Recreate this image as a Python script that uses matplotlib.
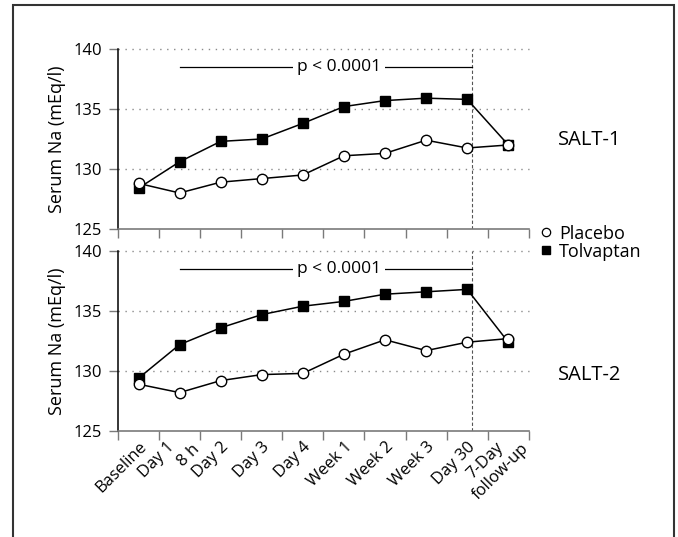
import numpy as np
import matplotlib
matplotlib.use('Agg')
import matplotlib.pyplot as plt
from matplotlib.patches import Rectangle
from matplotlib.lines import Line2D
from matplotlib.transforms import ScaledTranslation

plt.rcParams['font.family'] = ['Open Sans', 'DejaVu Sans']

# data
timepoints = ["Baseline", "Day 1\n8 h", "Day 2", "Day 3", "Day 4",
              "Week 1", "Week 2", "Week 3", "Day 30", "7-Day\nfollow-up"]
salt1_tolvaptan = [128.4, 130.6, 132.3, 132.5, 133.8, 135.2, 135.7, 135.9, 135.8, 132.0]
salt1_placebo = [128.8, 128.0, 128.9, 129.2, 129.5, 131.1, 131.3, 132.4, 131.75, 132.0]
salt2_tolvaptan = [129.4, 132.2, 133.6, 134.7, 135.4, 135.8, 136.4, 136.6, 136.8, 132.4]
salt2_placebo = [128.9, 128.2, 129.2, 129.7, 129.8, 131.4, 132.6, 131.7, 132.4, 132.7]
trial_names = ["SALT-1", "SALT-2"]
trial_label_y = [132.4, 129.7]
p_text = "p < 0.0001"

gray = '#7a7a7a'


def px(dx, dy):
    # offset in pixels (figure is drawn at 100 dpi)
    return ScaledTranslation(dx / 100, dy / 100, fig.dpi_scale_trans)


def draw_xlabels(ax, x):
    base = ax.get_xaxis_transform()
    for xi, lab in zip(x, timepoints):
        lines = lab.split('\n')
        if len(lines) == 1:
            offs = [(0, -8)]
        else:
            offs = [(-13, -8), (12, -10)]
        for line, (dx, dy) in zip(lines, offs):
            ax.text(xi, 0, line, transform=base + px(dx, dy), rotation=45,
                    rotation_mode='anchor', ha='right', va='top', fontsize=12)


def draw_panel(ax, tolv, plac, name, name_y, show_labels):
    x = np.arange(len(timepoints)) + 0.5
    for g in [130, 135, 140]:
        ax.axhline(g, color='#8a8a8a', lw=1.0, ls=(0, (1, 4)), clip_on=False, zorder=0)
    ax.axvline(8.61, color='#555555', lw=0.8, ls=(0, (3, 2)), zorder=1)
    ax.plot(x, tolv, color='black', lw=1.1, marker='s', ms=6.5, zorder=3)
    ax.plot(x, plac, color='black', lw=1.1, marker='o', ms=7.5,
            mfc='white', mec='black', mew=1.0, zorder=4)

    # significance bar
    ax.plot([1.5, 8.61], [138.5, 138.5], color='black', lw=0.9, zorder=2)
    ax.text(5.38, 138.5, p_text, ha='center', va='center', fontsize=12.5, zorder=3,
            bbox=dict(facecolor='white', edgecolor='none', pad=2.5))

    ax.text(10.71, name_y, name, ha='left', va='center', fontsize=14.5, clip_on=False)

    ax.set_xlim(0, 10)
    ax.set_ylim(125, 140)
    ax.set_yticks([125, 130, 135, 140])
    ax.set_xticks(np.arange(0, 11))
    ax.set_xticklabels([])
    ax.tick_params(axis='both', which='major', direction='out', length=6.5,
                   width=1.0, color=gray, labelsize=12, pad=5)
    if show_labels:
        draw_xlabels(ax, x)
    ax.set_ylabel("Serum Na (mEq/l)", fontsize=13, labelpad=5)
    for s in ['top', 'right']:
        ax.spines[s].set_visible(False)
    ax.spines['left'].set_color('black')
    ax.spines['left'].set_linewidth(1.1)
    ax.spines['bottom'].set_color(gray)
    ax.spines['bottom'].set_linewidth(1.2)


fig = plt.figure(figsize=(6.78, 5.37), dpi=100)
fig.patches.append(Rectangle((0.0192, -0.1), 0.9749, 1.0907, transform=fig.transFigure,
                             fill=False, edgecolor='#333333', lw=1.5))

ax1 = fig.add_axes([0.174, 0.5736, 0.606, 0.3352])
ax2 = fig.add_axes([0.174, 0.1974, 0.606, 0.3352])

draw_panel(ax1, salt1_tolvaptan, salt1_placebo, trial_names[0], trial_label_y[0], False)
draw_panel(ax2, salt2_tolvaptan, salt2_placebo, trial_names[1], trial_label_y[1], True)

handles = [Line2D([], [], ls='none', marker='o', ms=6, mfc='white', mec='black', mew=0.9),
           Line2D([], [], ls='none', marker='s', ms=6, color='black')]
fig.legend(handles, ["Placebo", "Tolvaptan"], loc='center left',
           bbox_to_anchor=(0.795, 0.5484), frameon=False, fontsize=13,
           handlelength=0.8, handletextpad=0.3, labelspacing=0.0,
           borderpad=0, borderaxespad=0)

fig.savefig("out.png", dpi=100)
